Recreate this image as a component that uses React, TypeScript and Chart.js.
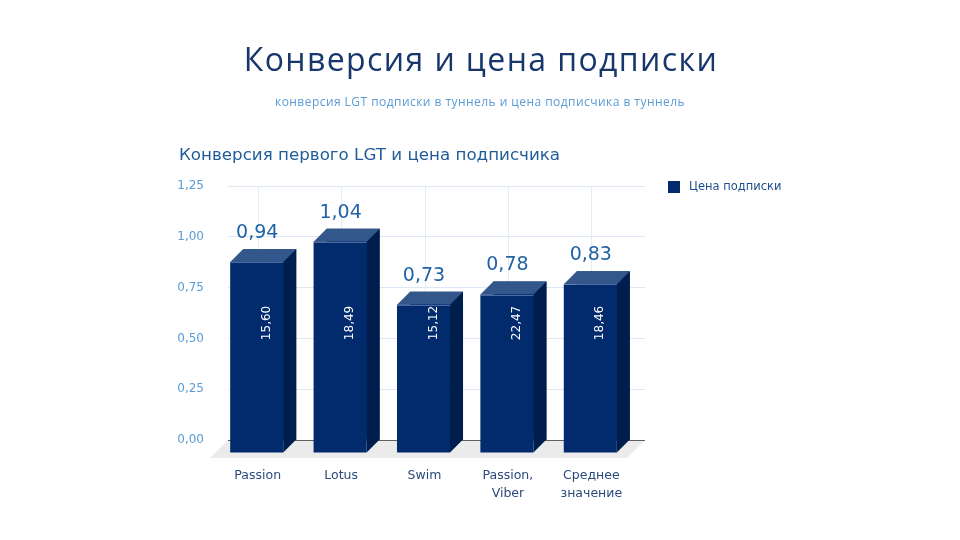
import React, { useEffect, useRef } from "react";
import { Chart, registerables } from "chart.js";

Chart.register(...registerables);

const categories: (string | string[])[] = ["Passion", "Lotus", "Swim", ["Passion,", "Viber"], ["Среднее", "значение"]];
const conversion = [0.94, 1.04, 0.73, 0.78, 0.83];
const subscriberPrice = ["15,60", "18,49", "15,12", "22,47", "18,46"];
const yTicks = [0, 0.25, 0.5, 0.75, 1.0, 1.25];
const seriesName = "Цена подписки";
const mainTitle = "Конверсия и цена подписки";
const subTitle = "конверсия LGT подписки в туннель и цена подписчика в туннель";
const chartTitle = "Конверсия первого LGT и цена подписчика";

const FRONT = "#012b6c";
const TOP = "#34578b";
const SIDE = "#001e4d";
const DEPTH = 13;
const FLOOR = 18;
const FONT = "'DejaVu Sans', Verdana, sans-serif";

const fmt = (v: number) => v.toFixed(2).replace(".", ",");

const threeD = {
  id: "threeD",
  beforeDatasetsDraw(chart: any) {
    const { ctx, chartArea: a, scales } = chart;
    const x = scales.x;
    ctx.save();
    // vertical grid lines
    ctx.strokeStyle = "#e3ebf5";
    ctx.lineWidth = 1;
    for (let i = 0; i < categories.length; i++) {
      const px = Math.round(x.getPixelForValue(i) - 12) + 0.5;
      ctx.beginPath();
      ctx.moveTo(px, a.top);
      ctx.lineTo(px, a.bottom);
      ctx.stroke();
    }
    // floor
    ctx.fillStyle = "#ebebeb";
    ctx.beginPath();
    ctx.moveTo(a.left, a.bottom);
    ctx.lineTo(a.right, a.bottom);
    ctx.lineTo(a.right - FLOOR, a.bottom + FLOOR);
    ctx.lineTo(a.left - FLOOR, a.bottom + FLOOR);
    ctx.closePath();
    ctx.fill();
    // zero axis line
    ctx.strokeStyle = "#5f5f5f";
    ctx.beginPath();
    ctx.moveTo(a.left, Math.round(a.bottom) + 0.5);
    ctx.lineTo(a.right, Math.round(a.bottom) + 0.5);
    ctx.stroke();
    ctx.restore();
  },
  afterDatasetsDraw(chart: any) {
    const { ctx, scales } = chart;
    const meta = chart.getDatasetMeta(0);
    ctx.save();
    meta.data.forEach((bar: any, i: number) => {
      const { x, y, base, width } = bar.getProps(["x", "y", "base", "width"], true);
      const l = x - width / 2;
      const r = x + width / 2;
      const d = DEPTH;
      // side
      ctx.fillStyle = SIDE;
      ctx.beginPath();
      ctx.moveTo(r - d, y + d);
      ctx.lineTo(r, y);
      ctx.lineTo(r, base);
      ctx.lineTo(r - d, base + d);
      ctx.closePath();
      ctx.fill();
      // top
      ctx.fillStyle = TOP;
      ctx.beginPath();
      ctx.moveTo(l - d, y + d);
      ctx.lineTo(l, y);
      ctx.lineTo(r, y);
      ctx.lineTo(r - d, y + d);
      ctx.closePath();
      ctx.fill();
      // front
      ctx.fillStyle = FRONT;
      ctx.fillRect(l - d, y + d, width, base - y);
      // thin highlight on front top edge
      ctx.strokeStyle = "rgba(120,150,200,0.6)";
      ctx.lineWidth = 1;
      ctx.beginPath();
      ctx.moveTo(l - d, Math.round(y + d) + 0.5);
      ctx.lineTo(r - d, Math.round(y + d) + 0.5);
      ctx.stroke();
      // value label above
      const cx = x - d;
      ctx.fillStyle = "#2262a6";
      ctx.font = "19px " + FONT;
      ctx.textAlign = "center";
      ctx.textBaseline = "middle";
      ctx.fillText(fmt(conversion[i]), cx + 0.5, y - 16);
      // price label inside, rotated
      const ly = scales.y.getPixelForValue(0.64) + d;
      ctx.save();
      ctx.translate(x - 3, ly);
      ctx.rotate(-Math.PI / 2);
      ctx.fillStyle = "#ffffff";
      ctx.font = "12px " + FONT;
      ctx.fillText(subscriberPrice[i], 0, 0);
      ctx.restore();
    });
    ctx.restore();
  },
  afterDraw(chart: any) {
    const { ctx } = chart;
    ctx.save();
    ctx.textBaseline = "middle";
    ctx.textAlign = "center";
    ctx.fillStyle = "#17366c";
    ctx.font = "32px 'Open Sans', sans-serif";
    (ctx as any).letterSpacing = "1.4px";
    ctx.fillText(mainTitle, 481, 62);
    ctx.fillStyle = "#5b9bd5";
    ctx.font = "12px 'Open Sans', sans-serif";
    (ctx as any).letterSpacing = "0.45px";
    ctx.fillText(subTitle, 480, 103);
    (ctx as any).letterSpacing = "0px";
    ctx.textAlign = "left";
    ctx.fillStyle = "#1f5c99";
    ctx.font = "16.7px " + FONT;
    ctx.fillText(chartTitle, 179, 156);
    // legend
    ctx.fillStyle = FRONT;
    ctx.fillRect(668, 181, 12, 12);
    ctx.fillStyle = "#1f4e8c";
    ctx.font = "11.5px " + FONT;
    ctx.fillText(seriesName, 689, 187);
    ctx.restore();
  },
};

export default function App() {
  const ref = useRef<HTMLCanvasElement>(null);
  useEffect(() => {
    document.body.style.margin = "0";
    const chart = new Chart(ref.current!, {
      type: "bar",
      data: {
        labels: categories as any,
        datasets: [
          {
            label: seriesName,
            data: conversion,
            backgroundColor: FRONT,
            borderWidth: 0,
            barPercentage: 0.636,
            categoryPercentage: 1,
          },
        ],
      },
      options: {
        animation: false,
        responsive: false,
        layout: { padding: { top: 186, right: 315, bottom: 0, left: 0 } },
        plugins: { legend: { display: false }, tooltip: { enabled: false } },
        scales: {
          x: {
            grid: { display: false, drawTicks: false },
            border: { display: false },
            ticks: {
              color: "#2b4a7c",
              font: { family: FONT, size: 12.5, lineHeight: 1.45 },
              padding: 27,
              labelOffset: -12,
              maxRotation: 0,
              autoSkip: false,
            },
            afterFit: (s: any) => {
              s.height = 100;
            },
          },
          y: {
            min: 0,
            max: 1.25,
            afterBuildTicks: (s: any) => {
              s.ticks = yTicks.map((v) => ({ value: v }));
            },
            grid: { color: "#dde8f4", drawTicks: false },
            border: { display: false },
            ticks: {
              color: "#5b9bd5",
              font: { family: FONT, size: 12 },
              padding: 24,
              callback: (v: any) => fmt(Number(v)),
            },
            afterFit: (s: any) => {
              s.width = 228;
            },
          },
        },
      },
      plugins: [threeD],
    });
    return () => chart.destroy();
  }, []);
  return (
    <div style={{ position: "fixed", left: 0, top: 0, width: 960, height: 540, background: "#fff" }}>
      <canvas ref={ref} width={960} height={540} />
    </div>
  );
}
